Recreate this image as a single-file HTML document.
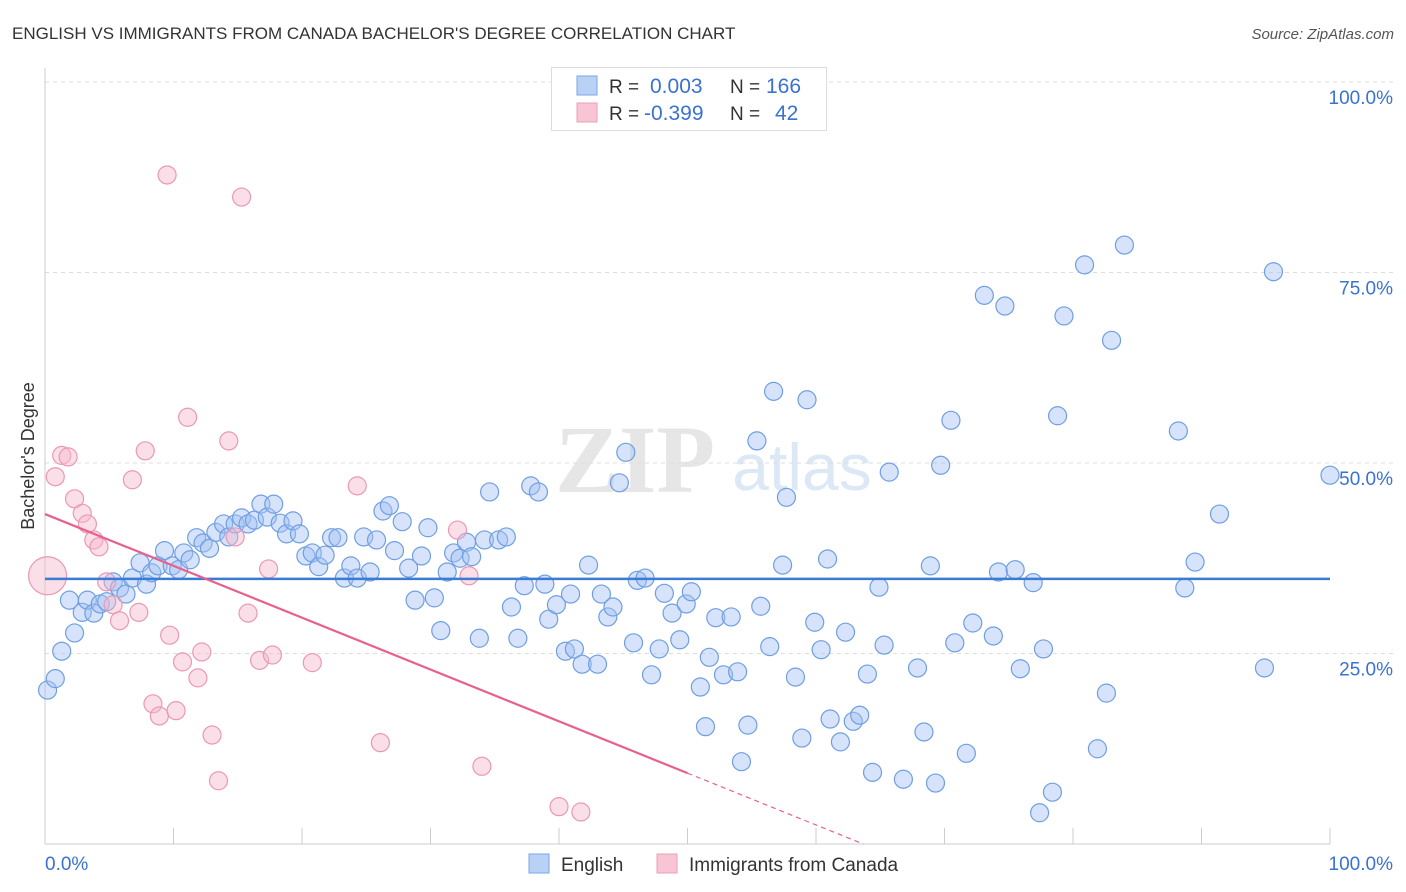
<!DOCTYPE html>
<html><head><meta charset="utf-8">
<style>
body{margin:0;background:#fff;font-family:"Liberation Sans",sans-serif;}
#wrap{position:relative;width:1406px;height:892px;overflow:hidden;}
</style></head>
<body>
<div id="wrap">
<svg id="chart" width="1406" height="892" style="position:absolute;left:0;top:0">
  <text x="12" y="39" font-size="17" fill="#333">ENGLISH VS IMMIGRANTS FROM CANADA BACHELOR'S DEGREE CORRELATION CHART</text>
  <text x="1394" y="39" font-size="15" fill="#555" text-anchor="end" font-style="italic">Source: ZipAtlas.com</text>
  <text x="34" y="456" font-size="18" fill="#333" text-anchor="middle" transform="rotate(-90 34 456)">Bachelor's Degree</text>
  <g>
    <text x="635" y="492" font-size="96" fill="#e6e6e6" text-anchor="middle" font-family="Liberation Serif,serif" font-weight="bold">ZIP</text>
    <text x="802" y="490" font-size="66" fill="#dde8f6" text-anchor="middle">atlas</text>
  </g>
  <g id="grid"></g>
  <g id="axes"></g>
  <g id="pts"></g>
  <g id="fits"></g>
  <g>
    <rect x="551.5" y="67.5" width="275" height="63" fill="#fff" stroke="#ddd"/>
    <rect x="577" y="76" width="20" height="19" fill="#b9d1f5" stroke="#7aa6e6"/>
    <rect x="577" y="103" width="20" height="19" fill="#f8c5d4" stroke="#eaa0b8"/>
    <text x="609" y="93" font-size="19" fill="#333">R =</text>
    <text x="650" y="93" font-size="21" fill="#3a72d0">0.003</text>
    <text x="730" y="93" font-size="19" fill="#333">N =</text>
    <text x="766" y="93" font-size="21" fill="#3a72d0">166</text>
    <text x="609" y="120" font-size="19" fill="#333">R =</text>
    <text x="644" y="120" font-size="21" fill="#3a72d0">-0.399</text>
    <text x="730" y="120" font-size="19" fill="#333">N =</text>
    <text x="775" y="120" font-size="21" fill="#3a72d0">42</text>
  </g>
  <g>
    <rect x="529" y="854" width="20" height="19" fill="#b9d1f5" stroke="#7aa6e6"/>
    <text x="561" y="871" font-size="19" fill="#333">English</text>
    <rect x="657" y="854" width="20" height="19" fill="#f8c5d4" stroke="#eaa0b8"/>
    <text x="689" y="871" font-size="19" fill="#333">Immigrants from Canada</text>
  </g>
</svg>
</div>
<script>
const englishX=[0.2,0.8,1.3,1.9,2.3,2.9,3.3,3.8,4.3,4.8,5.3,5.8,6.3,6.8,7.4,7.9,8.3,8.8,9.3,9.9,10.4,10.8,11.3,11.8,12.3,12.8,13.3,13.9,14.3,14.8,15.3,15.8,16.3,16.8,17.3,17.8,18.3,18.8,19.3,19.8,20.3,20.8,21.3,21.8,22.3,22.8,23.3,23.8,24.3,24.8,25.3,25.8,26.3,26.8,27.2,27.8,28.3,28.8,29.3,29.8,30.3,30.8,31.3,31.8,32.3,32.8,33.2,33.8,34.2,34.6,35.3,35.9,36.3,36.8,37.3,37.8,38.4,38.9,39.2,39.8,40.5,40.9,41.2,41.8,42.3,43.0,43.3,43.8,44.2,44.7,45.2,45.8,46.1,46.7,47.2,47.8,48.2,48.8,49.4,49.9,50.3,51.0,51.4,51.7,52.2,52.8,53.4,53.9,54.2,54.7,55.4,55.7,56.4,56.7,57.4,57.7,58.4,58.9,59.3,59.9,60.4,60.9,61.1,61.9,62.3,62.9,63.4,64.0,64.4,64.9,65.3,65.7,66.8,67.9,68.4,68.9,69.3,69.7,70.5,70.8,71.7,72.2,73.1,73.8,74.2,74.7,75.5,75.9,76.9,77.4,77.7,78.4,78.8,79.3,80.9,81.9,82.6,83.0,84.0,88.2,88.7,89.5,91.4,94.9,95.6,100];
const englishY=[20.2,21.7,25.3,32.0,27.7,30.4,32.0,30.3,31.5,31.8,34.4,33.6,32.8,34.9,36.9,34.1,35.6,36.5,38.5,36.5,36.0,38.2,37.3,40.2,39.5,38.8,40.9,42.0,40.3,42.0,42.8,42.0,42.5,44.6,42.9,44.6,42.1,40.7,42.4,40.7,37.8,38.2,36.4,37.9,40.2,40.2,34.9,36.5,34.9,40.3,35.7,39.9,43.7,44.4,38.5,42.3,36.2,32.0,37.8,41.5,32.3,28.0,35.7,38.2,37.5,39.6,37.7,27.0,39.9,46.2,39.9,40.3,31.1,27.0,33.9,47.0,46.2,34.1,29.5,31.4,25.3,32.8,25.6,23.6,36.6,23.6,32.8,29.8,31.1,47.4,51.4,26.4,34.6,34.9,22.2,25.6,32.9,30.3,26.8,31.5,33.1,20.6,15.4,24.5,29.7,22.2,29.8,22.6,10.8,15.6,52.9,31.2,25.9,59.4,36.6,45.5,21.9,13.9,58.3,29.1,25.5,37.4,16.4,13.4,27.8,16.1,16.9,22.3,9.4,33.7,26.1,48.8,8.5,23.1,14.7,36.5,8.0,49.7,55.6,26.4,11.9,29.0,72.0,27.3,35.7,70.6,36.0,23.0,34.3,4.1,25.6,6.8,56.2,69.3,76.0,12.5,19.8,66.1,78.6,54.2,33.6,37.0,43.3,23.1,75.1,48.4];
const canadaX=[0.2,0.8,1.3,1.8,2.3,2.9,3.3,3.8,4.2,4.8,5.3,5.8,6.8,7.3,7.8,8.4,8.9,9.5,9.7,10.2,10.7,11.1,11.9,12.2,13.0,13.5,14.3,14.8,15.3,15.8,16.7,17.4,17.7,20.8,24.3,26.1,32.1,33.0,34.0,40.0,41.7];
const canadaY=[35.2,48.2,51.0,50.8,45.3,43.4,42.0,39.9,39.0,34.4,31.4,29.3,47.8,30.4,51.6,18.4,16.8,87.8,27.4,17.5,23.9,56.0,21.8,25.2,14.3,8.3,52.9,40.3,84.9,30.3,24.1,36.1,24.8,23.8,47.0,13.3,41.2,35.2,10.2,4.9,4.2];
const englishFit=[34.8,0.0];   // intercept, slope
const canadaFit=[43.3,-0.68];  // intercept, slope
const canadaSolidEnd=50;
const yTicks=[25,50,75,100];
const xTickVals=[0,10,20,30,40,50,60,70,80,90,100];

const NS="http://www.w3.org/2000/svg";
const X0=45,X1=1330,Y0=844,Y1=82;
const sx=v=>X0+(X1-X0)*v/100;
const sy=v=>Y0-(Y0-Y1)*v/100;
function mk(tag,attrs,parent){const e=document.createElementNS(NS,tag);for(const k in attrs)e.setAttribute(k,attrs[k]);parent.appendChild(e);return e;}
const grid=document.getElementById('grid'),axes=document.getElementById('axes'),pts=document.getElementById('pts'),fits=document.getElementById('fits');

yTicks.forEach(t=>{
  const l=mk('line',{x1:X0,x2:1394,y1:sy(t),y2:sy(t),stroke:'#ddd','stroke-dasharray':'4,4'},grid);
  
  
  const tx=mk('text',{x:1393,y:sy(t)+22,'font-size':19,fill:'#3a72d0','text-anchor':'end'},grid);
  tx.textContent=t.toFixed(1)+'%';
  
  
});
const ya=mk('line',{x1:X0,x2:X0,y1:68,y2:Y0,stroke:'#ccc'},axes);


const xa=mk('line',{x1:X0,x2:X1,y1:Y0,y2:Y0,stroke:'#ccc'},axes);


xTickVals.forEach(t=>{
  const l=mk('line',{x1:sx(t),x2:sx(t),y1:Y0-16,y2:Y0,stroke:'#ccc'},axes);
  
  
});
const xl0=mk('text',{x:45,y:870,'font-size':19,fill:'#3a72d0'},axes);xl0.textContent='0.0%';


const xl1=mk('text',{x:1393,y:870,'font-size':19,fill:'#3a72d0','text-anchor':'end'},axes);xl1.textContent='100.0%';



englishX.forEach((x,i)=>{
  const c=mk('circle',{cx:sx(x),cy:sy(englishY[i]),r:9,fill:'rgba(164,194,244,0.45)',stroke:'#6f9fe2','stroke-width':1.2},pts);
  
  
});
canadaX.forEach((x,i)=>{
  const c=mk('circle',{cx:sx(x),cy:sy(canadaY[i]),r:i===0?19:9,fill:'rgba(246,184,204,0.45)',stroke:'#eb98b4','stroke-width':1.2},pts);
  
  
});
const f=(p,x)=>p[0]+p[1]*x;
const bl=mk('line',{x1:sx(0),y1:sy(f(englishFit,0)),x2:sx(100),y2:sy(f(englishFit,100)),stroke:'#3a7bd5','stroke-width':2.5},fits);


const pl=mk('line',{x1:sx(0),y1:sy(f(canadaFit,0)),x2:sx(canadaSolidEnd),y2:sy(f(canadaFit,canadaSolidEnd)),stroke:'#e8608c','stroke-width':2.2},fits);


const zeroX=-canadaFit[0]/canadaFit[1];
const pd=mk('line',{x1:sx(canadaSolidEnd),y1:sy(f(canadaFit,canadaSolidEnd)),x2:sx(zeroX),y2:sy(0),stroke:'#e8608c','stroke-width':1.2,'stroke-dasharray':'5,4'},fits);


</script>
</body></html>
